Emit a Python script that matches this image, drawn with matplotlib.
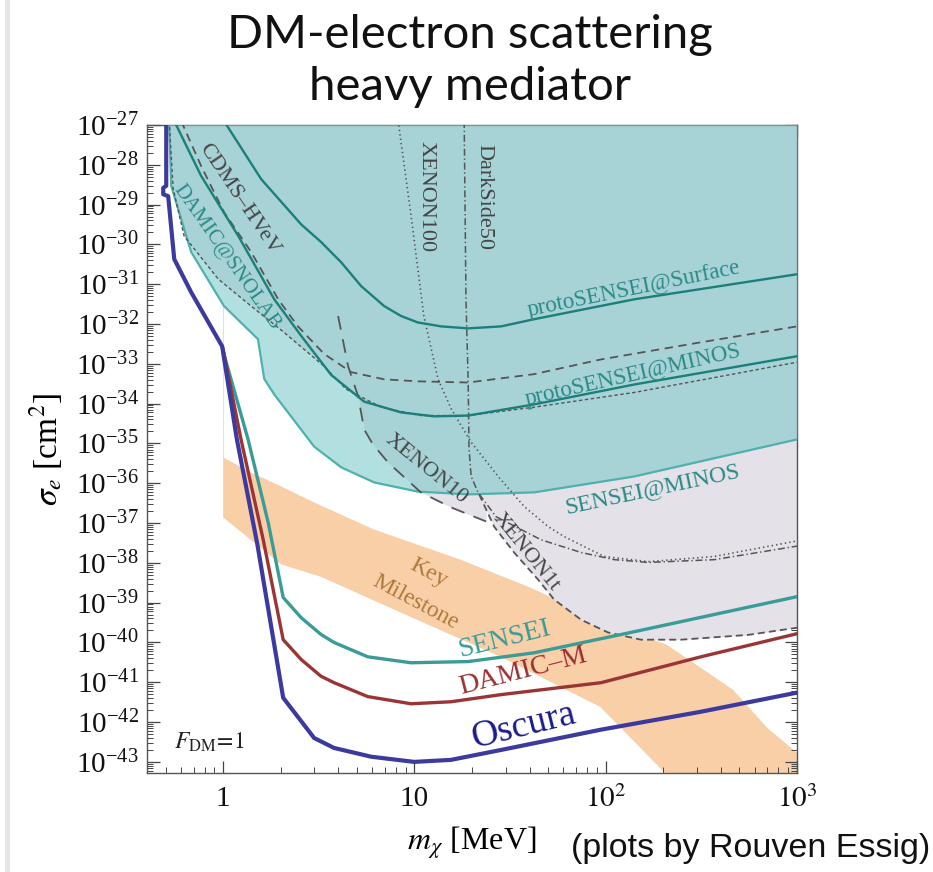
import matplotlib
matplotlib.use("Agg")
import matplotlib.pyplot as plt
import numpy as np
from matplotlib.patches import Rectangle
from matplotlib.ticker import LogLocator, FixedLocator, FixedFormatter, NullFormatter

# ---- data: DM mass (MeV) and log10(sigma_e / cm^2) ----
oscura_m = [0.504, 0.504, 0.486, 0.486, 0.516, 0.555, 0.680, 0.988, 1.18, 1.51, 2.06,
            2.99, 3.80, 5.94, 9.96, 15.5, 28.4, 94.6, 315, 1000]
oscura_lg = [-26.8, -28.53, -28.58, -28.74, -28.79, -30.37, -31.20, -32.56, -34.90, -37.54,
             -41.39, -42.40, -42.65, -42.87, -43.00, -42.95, -42.70, -42.19, -41.74, -41.26]

damicm_m = [1.0, 1.24, 1.62, 2.06, 2.56, 3.25, 3.8, 5.7, 9.61, 15.5, 28.4, 94.6, 315, 1000]
damicm_lg = [-32.64, -34.90, -37.42, -39.93, -40.43, -40.85, -41.01, -41.36, -41.54, -41.49,
             -41.31, -41.01, -40.36, -39.78]

sensei_m = [1.0, 1.35, 1.72, 2.06, 2.56, 3.25, 3.8, 5.7, 9.6, 19.1, 42.2, 141, 1000]
sensei_lg = [-32.69, -34.90, -36.99, -38.87, -39.38, -39.80, -40.0, -40.36, -40.51, -40.48,
             -40.26, -39.73, -38.85]

ps_surf_m = [1.01, 1.58, 2.56, 3.25, 4.14, 5.27, 6.95, 8.52, 10.4, 13.8, 19.1, 28.4, 42.2,
             141, 1000]
ps_surf_lg = [-26.9, -28.36, -29.50, -29.94, -30.45, -31.05, -31.55, -31.80, -31.96, -32.06,
              -32.11, -32.06, -31.88, -31.38, -30.75]

ps_minos_m = [0.555, 0.767, 1.20, 1.85, 2.56, 3.67, 5.46, 8.5, 12.7, 19.1, 42.2, 141, 1000]
ps_minos_lg = [-26.9, -28.28, -29.79, -31.38, -32.30, -33.28, -33.95, -34.22, -34.32,
               -34.30, -34.02, -33.52, -32.81]

sminos_m = [0.522, 0.535, 0.680, 1.01, 1.52, 1.64, 1.85, 2.99, 4.14, 6.16, 10.4, 19.1,
            42.2, 141, 1000]
sminos_lg = [-26.9, -28.53, -30.19, -31.55, -32.38, -33.38, -33.77, -35.08, -35.60, -35.98,
             -36.21, -36.28, -36.23, -35.83, -34.90]

snolab_m = [0.522, 0.548, 0.625, 0.942, 1.40, 2.08, 3.37, 4.40, 6.70, 10.8, 19.1, 42.2,
            141, 1000]
snolab_lg = [-26.9, -28.61, -29.79, -30.87, -31.55, -32.21, -33.06, -33.64, -34.09, -34.30,
             -34.30, -34.09, -33.72, -32.96]

cdms_m = [0.603, 0.767, 1.01, 1.40, 1.94, 2.46, 3.37, 4.67, 6.95, 10.4, 19.1, 42.2, 94.5,
          314, 1000]
cdms_lg = [-26.9, -28.03, -29.19, -30.19, -31.38, -32.06, -32.75, -33.21, -33.39, -33.44,
           -33.47, -33.26, -32.89, -32.46, -32.06]

xe10_m = [3.99, 4.50, 5.08, 5.46, 6.08, 7.29, 10.8, 15.6, 20.5, 23.7]
xe10_lg = [-31.80, -33.06, -33.82, -34.65, -35.03, -35.48, -36.23, -36.61, -36.84, -36.96]

xe1t_m = [21.8, 26.1, 33.2, 44.3, 53.7, 74.4, 103, 153, 248, 555, 1000]
xe1t_lg = [-36.28, -37.09, -37.74, -38.42, -38.92, -39.43, -39.75, -39.93, -39.93, -39.81,
           -39.63]

xe100_m = [8.22, 9.61, 11.2, 13.3, 15.6, 19.8, 27.4, 37.4, 50.0, 60.6, 98.1, 167, 369, 1000]
xe100_lg = [-26.9, -29.29, -31.80, -33.39, -34.14, -34.97, -35.83, -36.58, -37.09, -37.34,
            -37.84, -37.97, -37.84, -37.45]

ds50_m = [18.2, 18.6, 19.1, 19.3, 19.8, 21.5, 26.7, 45.9, 74.4, 111, 167, 369, 1000]
ds50_lg = [-26.9, -31.38, -33.47, -35.15, -35.83, -36.23, -36.84, -37.42, -37.74, -37.92,
           -37.99, -37.92, -37.58]

key_top_m = [1.0, 1.40, 2.01, 2.98, 6.13, 17.4, 40.3, 93.7, 209, 464, 697, 1000]
key_top_lg = [-35.35, -35.73, -36.08, -36.48, -37.16, -37.92, -38.62, -39.43, -40.06,
              -41.19, -42.14, -42.77]
key_bot_m = [1.0, 2.01, 3.24, 8.5, 28.2, 93.7, 209, 312, 1000]
key_bot_lg = [-36.86, -38.04, -38.35, -39.25, -40.36, -41.62, -43.33, -44.2, -44.2]

guide_m = [1.0, 1.0]
guide_lg = [-31.5, -35.35]

x_ticks = [1, 10, 100, 1000]
x_tick_labels = ["1", "10", "$10^2$", "$10^3$"]

plt.rcParams["font.family"] = "serif"
plt.rcParams["font.serif"] = ["Liberation Serif", "DejaVu Serif"]
plt.rcParams["mathtext.fontset"] = "stix"
plt.rcParams["lines.scale_dashes"] = False

fig = plt.figure(figsize=(9.33, 8.72), dpi=100)
fig.add_artist(Rectangle((5 / 933, 0), 5 / 933, 1, transform=fig.transFigure,
                         color="#e6e6e6", lw=0))
ax = fig.add_axes([0.1576, 0.1135, 0.6966, 0.7432])
ax.set_xscale("log")
ax.set_yscale("log")

TOP = 1e-20

# Key milestone band
band_m = key_top_m + key_bot_m[::-1]
band_lg = key_top_lg + key_bot_lg[::-1]
ax.fill(band_m, 10 ** np.array(band_lg), color="#f9cfa8", lw=0, zorder=1)
ax.plot(guide_m, 10 ** np.array(guide_lg), color="#e2e2e2", lw=0.8, zorder=1)

# existing constraints (lower envelope of DAMIC@SNOLAB, XENON10, XENON1t)
grid = np.logspace(np.log10(0.522), 3, 800)
lg_grid = np.log10(grid)
env = np.full_like(grid, np.inf)
for cm, cl in [(snolab_m, snolab_lg), (xe10_m, xe10_lg), (xe1t_m, xe1t_lg)]:
    v = np.interp(lg_grid, np.log10(cm), cl, left=np.inf, right=np.inf)
    env = np.minimum(env, v)
ax.fill_between(grid, 10 ** env, TOP, color="#e4e1e9", lw=0, zorder=2)

# SENSEI@MINOS region
ax.fill_between(sminos_m, 10 ** np.array(sminos_lg), TOP, color="#7fcbca", alpha=0.6,
                lw=0, zorder=3)
ax.plot(sminos_m, 10 ** np.array(sminos_lg), color="#4eb1ad", lw=1.6, zorder=4)

grey = "#555555"
ax.plot(snolab_m, 10 ** np.array(snolab_lg), color=grey, lw=1.0, dashes=(2.5, 1.8), zorder=5)
ax.plot(cdms_m, 10 ** np.array(cdms_lg), color=grey, lw=1.3, dashes=(6, 4), zorder=5)
ax.plot(xe10_m, 10 ** np.array(xe10_lg), color=grey, lw=1.3, dashes=(10, 7), zorder=5)
ax.plot(xe1t_m, 10 ** np.array(xe1t_lg), color=grey, lw=1.3, dashes=(5, 3), zorder=5)
ax.plot(xe100_m, 10 ** np.array(xe100_lg), color=grey, lw=1.2, dashes=(1, 2.2), zorder=5)
ax.plot(ds50_m, 10 ** np.array(ds50_lg), color=grey, lw=1.1, dashes=(5, 2, 1, 2), zorder=5)

ax.plot(ps_surf_m, 10 ** np.array(ps_surf_lg), color="#1b7f7a", lw=1.7, zorder=6)
ax.plot(ps_minos_m, 10 ** np.array(ps_minos_lg), color="#1b7f7a", lw=1.7, zorder=6)

ax.plot(sensei_m, 10 ** np.array(sensei_lg), color="#3a9b97", lw=2.4, zorder=7)
ax.plot(damicm_m, 10 ** np.array(damicm_lg), color="#9b3535", lw=2.4, zorder=7)
ax.plot(oscura_m, 10 ** np.array(oscura_lg), color="#3d3a9e", lw=3.0, zorder=8)


# labels
def lab(m, lg, s, rot, color, size):
    ax.text(m, 10 ** lg, s, rotation=rot, rotation_mode="anchor", ha="center",
            va="center", color=color, fontsize=size, zorder=9)


dk = "#444444"
tl = "#2a8a86"
lab(1.21, -28.86, "CDMS\u2013HVeV", -56, dk, 16)
lab(1.04, -30.32, "DAMIC@SNOLAB", -55, tl, 15)
lab(11.5, -28.79, "XENON100", -90, dk, 16)
lab(23.1, -28.81, "DarkSide50", -90, dk, 16)
lab(141, -31.13, "protoSENSEI@Surface", 11.5, tl, 16.5)
lab(139, -33.29, "protoSENSEI@MINOS", 12.8, tl, 16.5)
lab(11.5, -35.65, "XENON10", -39, dk, 16)
lab(38.4, -37.74, "XENON1t", -51, dk, 16)
lab(176, -36.16, "SENSEI@MINOS", 12, tl, 17)
lab(11.8, -38.25, "Key", -28, "#b07a3c", 17)
lab(10.2, -39.0, "Milestone", -28, "#b07a3c", 17)
lab(29.5, -39.92, "SENSEI", 14, "#3a9b97", 20)
lab(37.1, -40.72, "DAMIC\u2013M", 14.5, "#9b2f2f", 20)
lab(37.1, -42.1, "Oscura", 14, "#1c1c8c", 27)
ax.text(0.555, 10 ** -42.5, r"$F_{\rm DM}\!=\!1$", ha="left", va="center", fontsize=17,
        color="#222222", zorder=9)

ax.set_xlim(0.4, 1000)
ax.set_ylim(10 ** -43.28, 1e-27)

ax.xaxis.set_major_locator(FixedLocator(x_ticks))
ax.xaxis.set_major_formatter(FixedFormatter(x_tick_labels))
ax.xaxis.set_minor_locator(LogLocator(subs=np.arange(2, 10), numticks=50))
ax.xaxis.set_minor_formatter(NullFormatter())
ax.yaxis.set_major_locator(LogLocator(base=10, numticks=40))
ax.yaxis.set_minor_locator(LogLocator(subs=np.arange(2, 10), numticks=400))
ax.yaxis.set_minor_formatter(NullFormatter())

ax.tick_params(which="both", direction="in", top=True, right=True, colors="#444444",
               labelcolor="#111111")
ax.tick_params(which="major", length=9, width=0.9, labelsize=21)
ax.tick_params(which="minor", length=4.5, width=0.7)
ax.tick_params(axis="y", which="major", pad=6)
ax.tick_params(axis="x", which="major", pad=9)
for sp in ax.spines.values():
    sp.set_color("#555555")
    sp.set_linewidth(1.0)

ax.set_ylabel(r"$\sigma_e$ [cm$^2$]", fontsize=24, labelpad=8)
ax.set_xlabel(r"$m_\chi$ [MeV]", fontsize=23, labelpad=8)
fig.text(0.612, 0.027, "(plots by Rouven Essig)", family="Liberation Sans", fontsize=24.5,
         ha="left", va="center", color="#111111")

fig.text(0.504, 0.945, "DM-electron scattering", family="Lato", fontsize=34, ha="center",
         va="baseline", color="#111111")
fig.text(0.504, 0.885, "heavy mediator", family="Lato", fontsize=34, ha="center",
         va="baseline", color="#111111")

fig.savefig("out.png", dpi=100)
